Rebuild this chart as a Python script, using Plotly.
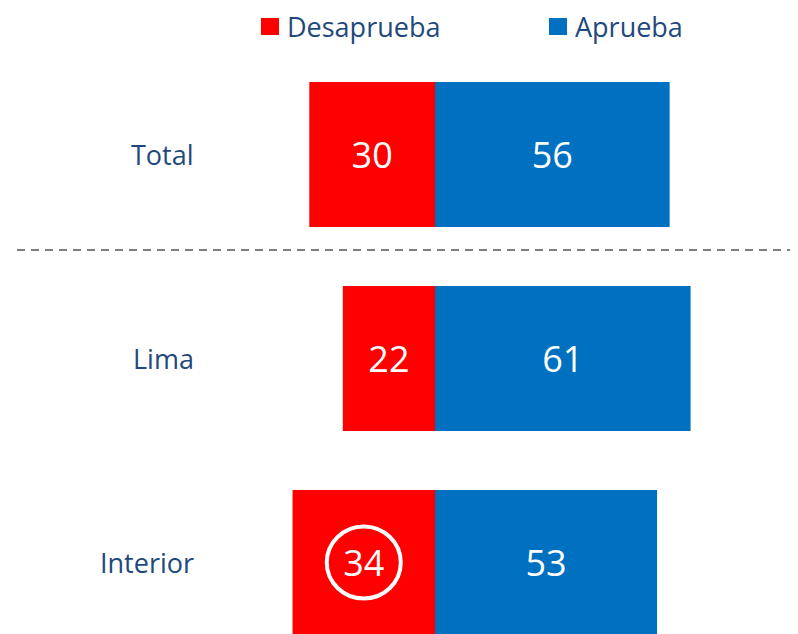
"""
Diverging bar chart: Desaprueba vs Aprueba by region.
"""

import plotly.graph_objects as go

# ── Data ──────────────────────────────────────────────────────────────────────

CATEGORIES  = ["Total", "Lima", "Interior"]
DESAPRUEBA  = [30, 22, 34]
APRUEBA     = [56, 61, 53]
HIGHLIGHT   = "Interior"   # circled Desaprueba value

# ── Style ─────────────────────────────────────────────────────────────────────

RED        = "#FF0000"
BLUE       = "#0070C0"
LABEL_CLR  = "#1F497D"
FONT       = "Open Sans"

# page has an 8px body margin, so the figure is drawn 8px smaller and
# all reference pixel positions are shifted by OFF
OFF   = 8
W, H  = 798 - OFF, 634 - OFF


def px_x(p):
    return (p - OFF) / W


def px_y(p):
    return 1 - (p - OFF) / H


y_pos = list(range(len(CATEGORIES)))

fig = go.Figure()

fig.add_trace(go.Bar(
    y=y_pos,
    x=[-v for v in DESAPRUEBA],
    orientation="h",
    name="Desaprueba",
    marker=dict(color=RED, line=dict(width=0)),
    text=[str(v) for v in DESAPRUEBA],
    textposition="inside",
    insidetextanchor="middle",
    textfont=dict(size=36, color="white", family=FONT),
    width=0.71,
))

fig.add_trace(go.Bar(
    y=y_pos,
    x=APRUEBA,
    orientation="h",
    name="Aprueba",
    marker=dict(color=BLUE, line=dict(width=0)),
    text=[str(v) for v in APRUEBA],
    textposition="inside",
    insidetextanchor="middle",
    textfont=dict(size=36, color="white", family=FONT),
    width=0.71,
))

# px per unit ~4.19, zero at x=435px (reference coords)
px_per_unit = 4.19
zero_px = 435 - OFF
x0 = -zero_px / px_per_unit
x1 = (W - zero_px) / px_per_unit

# 204px between rows, first row centred at 154.5px
row_px = 204
first_px = 154.5 - OFF
y_top = -first_px / row_px
y_bot = (H - first_px) / row_px

shapes = []

# dashed separator between Total and the regions
shapes.append(dict(
    type="line", xref="paper", yref="y",
    x0=px_x(17), x1=1, y0=0.468, y1=0.468,
    line=dict(color="#7F7F7F", width=2, dash="8px,6px"),
))

# circle around highlighted value
hi = CATEGORIES.index(HIGHLIGHT)
shapes.append(dict(
    type="circle", xref="x", yref="y",
    xsizemode="pixel", ysizemode="pixel",
    xanchor=-DESAPRUEBA[hi] / 2, yanchor=hi,
    x0=-37, x1=37, y0=-36, y1=36,
    line=dict(color="white", width=4),
))

# legend squares
for left, color in [(261, RED), (549, BLUE)]:
    shapes.append(dict(
        type="rect", xref="paper", yref="paper",
        x0=px_x(left), x1=px_x(left + 18),
        y0=px_y(35), y1=px_y(18),
        fillcolor=color, line=dict(width=0),
    ))

annotations = []
for text, left in [("Desaprueba", 285), ("Aprueba", 573)]:
    annotations.append(dict(
        text=text, xref="paper", yref="paper",
        x=px_x(left), y=px_y(26), xanchor="left", yanchor="middle",
        showarrow=False, font=dict(size=27, color=LABEL_CLR, family=FONT),
    ))

for i, cat in enumerate(CATEGORIES):
    annotations.append(dict(
        text=cat, xref="paper", yref="y",
        x=px_x(196), y=i, xanchor="right", yanchor="middle",
        showarrow=False, font=dict(size=27, color=LABEL_CLR, family=FONT),
    ))

fig.update_layout(
    width=W, height=H,
    margin=dict(l=0, r=0, t=0, b=0),
    paper_bgcolor="white",
    plot_bgcolor="white",
    barmode="relative",
    showlegend=False,
    xaxis=dict(range=[x0, x1], visible=False, fixedrange=True),
    yaxis=dict(range=[y_bot, y_top], visible=False, fixedrange=True),
    shapes=shapes,
    annotations=annotations,
)

fig.write_html("out.html")
